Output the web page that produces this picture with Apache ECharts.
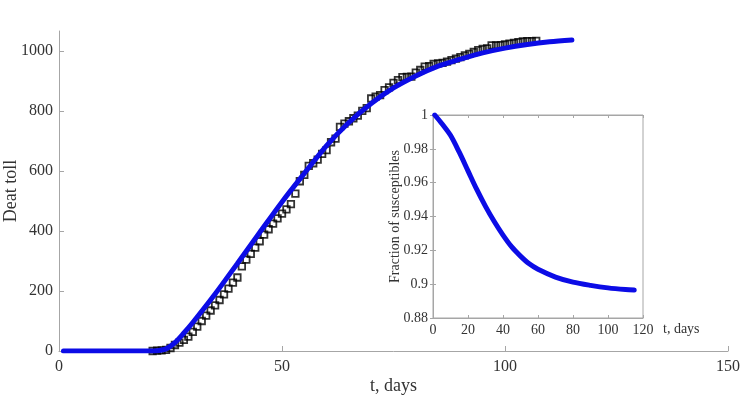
<!DOCTYPE html>
<html>
<head>
<meta charset="utf-8">
<script src="https://cdn.jsdelivr.net/npm/echarts@6/dist/echarts.min.js"></script>
<style>
  html, body { margin: 0; padding: 0; background: #fff; }
  #chart { width: 740px; height: 396px; }
</style>
</head>
<body>
<div id="chart"></div>
<script>
// observed deaths, one point per day
var dataDays = [21, 22, 23, 24, 25, 26, 27, 28, 29, 30, 31, 32, 33, 34, 35, 36, 37, 38, 39, 40,
    41, 42, 43, 44, 45, 46, 47, 48, 49, 50, 51, 52, 53, 54, 55, 56, 57, 58, 59, 60,
    61, 62, 63, 64, 65, 66, 67, 68, 69, 70, 71, 72, 73, 74, 75, 76, 77, 78, 79, 80,
    81, 82, 83, 84, 85, 86, 87, 88, 89, 90, 91, 92, 93, 94, 95, 96, 97, 98, 99, 100,
    101, 102, 103, 104, 105, 106, 107];
var dataDeaths = [0, 1, 2, 4, 10, 20, 28, 37, 48, 64, 81, 100, 118, 135, 152, 170, 189, 208, 228, 245,
    282, 305, 324, 345, 366, 388, 406, 425, 442, 458, 472, 490, 525, 566, 587, 617, 626, 638, 657, 670,
    696, 708, 747, 758, 766, 776, 785, 801, 810, 842, 848, 853, 870, 879, 894, 903, 913, 914, 915, 928,
    937, 948, 950, 957, 959, 961, 965, 970, 975, 980, 986, 991, 997, 1003, 1007, 1009, 1019, 1019, 1020, 1022,
    1025, 1027, 1030, 1032, 1033, 1033, 1034];

// model curve
var modelDays = [1, 20, 22, 24, 26, 28, 30, 35, 40, 45, 50, 55, 60, 65, 70, 75, 80, 85, 90, 95, 100, 105, 110, 115];
var modelDeaths = [0, 0, 1, 7, 28, 60, 95, 190, 292, 395, 497, 592, 685, 762, 825, 877, 917, 950, 973, 994, 1010, 1022, 1031, 1037];

// inset: fraction of susceptibles
var suscDays = [1, 5, 10, 15, 20, 25, 30, 35, 40, 45, 50, 55, 60, 70, 80, 90, 100, 110, 115];
var suscFrac = [1.0, 0.995, 0.988, 0.978, 0.967, 0.956, 0.946, 0.937, 0.929, 0.922, 0.9166, 0.912, 0.9088, 0.9042, 0.9012, 0.8993, 0.8978, 0.8968, 0.8965];

var mainYTicks = [0, 200, 400, 600, 800, 1000];

function zip(xs, ys) {
    var res = [];
    for (var i = 0; i < xs.length; i++) {
        res.push([xs[i], ys[i]]);
    }
    return res;
}

var font = 'Liberation Serif';
var axisGray = '#a6a6a6';
var textGray = '#333';
var blue = '#0c0ce6';

var chart = echarts.init(document.getElementById('chart'));

var option = {
    backgroundColor: '#fff',
    animation: false,
    grid: [
        {left: 59, right: 12, top: 31, bottom: 45, outerBoundsMode: 'none', containLabel: false},
        {left: 433, top: 115, width: 210, height: 203, show: true, outerBoundsMode: 'none', containLabel: false,
         backgroundColor: '#fff', borderColor: axisGray, borderWidth: 1, z: 5}
    ],
    xAxis: [
        {
            gridIndex: 0, type: 'value', min: 0, max: 150, interval: 50,
            name: 't, days', nameLocation: 'middle', nameGap: 26, nameMoveOverlap: false,
            nameTextStyle: {fontFamily: font, fontSize: 18, color: textGray},
            axisLine: {lineStyle: {color: axisGray}},
            axisTick: {inside: true, length: 5, lineStyle: {color: axisGray}},
            axisLabel: {fontFamily: font, fontSize: 16, color: textGray, margin: 8},
            splitLine: {show: false}
        },
        {
            gridIndex: 1, type: 'value', min: 0, max: 120, interval: 20,
            name: 't, days', nameLocation: 'end', nameGap: 20, nameMoveOverlap: false,
            nameTextStyle: {fontFamily: font, fontSize: 14, color: textGray,
                            verticalAlign: 'top', padding: [4, 0, 0, 0]},
            axisLine: {lineStyle: {color: axisGray}},
            axisTick: {inside: true, length: 3, lineStyle: {color: axisGray}},
            axisLabel: {fontFamily: font, fontSize: 14, color: textGray, margin: 5},
            splitLine: {show: false}, z: 6
        },
        {
            gridIndex: 1, type: 'value', min: 0, max: 120, interval: 20, position: 'top',
            axisLine: {lineStyle: {color: axisGray}},
            axisTick: {inside: true, length: 3, lineStyle: {color: axisGray}},
            axisLabel: {show: false},
            splitLine: {show: false}, z: 6
        }
    ],
    yAxis: [
        {
            gridIndex: 0, type: 'value', min: 0, max: 1067,
            name: 'Deat toll', nameLocation: 'middle', nameGap: 39, nameMoveOverlap: false,
            nameTextStyle: {fontFamily: font, fontSize: 18, color: textGray},
            axisLine: {show: true, lineStyle: {color: axisGray}},
            axisTick: {show: true, inside: true, length: 5, customValues: mainYTicks, lineStyle: {color: axisGray}},
            axisLabel: {fontFamily: font, fontSize: 16, color: textGray, margin: 6, customValues: mainYTicks,
                        formatter: function (v) { return String(v); }},
            splitLine: {show: false}
        },
        {
            gridIndex: 1, type: 'value', min: 0.88, max: 1, interval: 0.02,
            name: 'Fraction of susceptibles', nameLocation: 'middle', nameGap: 31, nameMoveOverlap: false,
            nameTextStyle: {fontFamily: font, fontSize: 14, color: textGray},
            axisLine: {show: true, lineStyle: {color: axisGray}},
            axisTick: {show: true, inside: true, length: 3, lineStyle: {color: axisGray}},
            axisLabel: {fontFamily: font, fontSize: 14, color: textGray, margin: 5,
                        formatter: function (v) { return String(Math.round(v * 100) / 100); }},
            splitLine: {show: false}, z: 6
        },
        {
            gridIndex: 1, type: 'value', min: 0.88, max: 1, interval: 0.02, position: 'right',
            axisLine: {show: true, lineStyle: {color: axisGray}},
            axisTick: {show: true, inside: true, length: 3, lineStyle: {color: axisGray}},
            axisLabel: {show: false},
            splitLine: {show: false}, z: 6
        }
    ],
    series: [
        {
            name: 'data', type: 'scatter', xAxisIndex: 0, yAxisIndex: 0,
            symbol: 'rect', symbolSize: 6.5,
            itemStyle: {color: 'rgba(0,0,0,0)', borderColor: '#000', borderWidth: 1.8},
            data: zip(dataDays, dataDeaths), z: 2
        },
        {
            name: 'model', type: 'line', xAxisIndex: 0, yAxisIndex: 0,
            showSymbol: false, smooth: 0.3,
            lineStyle: {color: blue, width: 5, cap: 'round'},
            data: zip(modelDays, modelDeaths), z: 3
        },
        {
            name: 'susceptibles', type: 'line', xAxisIndex: 1, yAxisIndex: 1,
            showSymbol: false, smooth: 0.3,
            lineStyle: {color: blue, width: 5, cap: 'round'},
            data: zip(suscDays, suscFrac), z: 7
        }
    ]
};

chart.setOption(option);
</script>
</body>
</html>
